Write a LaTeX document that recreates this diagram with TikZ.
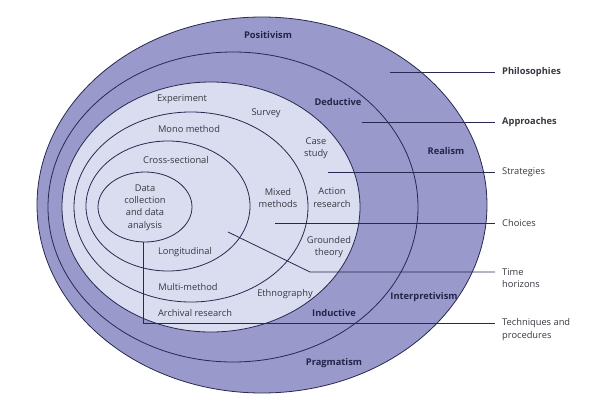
\documentclass[tikz,border=0pt]{standalone}
\usepackage{fontspec}
\setmainfont{Open Sans}
\usepackage{tikz}
\usepackage{xcolor}
\definecolor{onionout}{RGB}{153,153,204}
\definecolor{onionin}{RGB}{218,221,239}
\definecolor{rim}{RGB}{40,40,80}
\definecolor{ink}{RGB}{55,55,65}

\begin{document}
\begin{tikzpicture}[x=1pt,y=-1pt,
  layer/.style={draw=rim, line width=0.8pt},
  lead/.style={draw=rim, line width=0.8pt},
  txt/.style={font=\fontsize{9.3}{12.3}\selectfont, text=ink, align=center, inner sep=0pt},
  bold/.style={txt, font=\fontsize{9.3}{12.3}\selectfont\bfseries, text=rim!90!black},
  side/.style={txt, align=left, anchor=west, inner xsep=7pt}]
\useasboundingbox (0,0) rectangle (598,407);
% the layers of the onion
\filldraw[layer, fill=onionout] (262,205) ellipse (225 and 188);
\filldraw[layer, fill=onionout] (233,207) ellipse (185 and 155);
\filldraw[layer, fill=onionin] (211,207) ellipse (149 and 125);
\filldraw[layer, fill=onionin] (191,207) ellipse (117 and 95);
\filldraw[layer, fill=onionin] (168,206) ellipse (82 and 65);
\filldraw[layer, fill=onionin] (145,207) ellipse (47 and 35);

% labels on the right
\node[side, font=\fontsize{9.3}{12.3}\selectfont\bfseries] (philL) at (495,72) {Philosophies};
\node[side, font=\fontsize{9.3}{12.3}\selectfont\bfseries] (apprL) at (495,122) {Approaches};
\node[side] (stratL) at (495,172) {Strategies};
\node[side] (choiL) at (495,223) {Choices};
\node[side] (timeL) at (495,278) {Time\\horizons};
\node[side] (techL) at (495,329.5) {Techniques and\\procedures};

\coordinate (phil) at (390,72);
\coordinate (appr) at (362,122);
\coordinate (strat) at (328,172);
\coordinate (choi) at (275,223);
\coordinate (time) at (228,232);
\coordinate (timeB) at (310,272);
\coordinate (tech) at (143,242);
\coordinate (techB) at (143,323);

\draw[lead] (phil) -- (philL.west);
\draw[lead] (appr) -- (apprL.west);
\draw[lead] (strat) -- (stratL.west);
\draw[lead] (choi) -- (choiL.west);
\draw[lead] (time) -- (timeB) -- (timeB -| timeL.west);
\draw[lead] (tech) -- (techB) -- (techB -| techL.west);

% philosophies and approaches
\node[bold] (positivism) at (268,35) {Positivism};
\node[bold] (realism) at (446,151) {Realism};
\node[bold] (interp) at (424,297) {Interpretivism};
\node[bold] (pragmatism) at (334,363) {Pragmatism};
\node[bold] (deductive) at (338,102) {Deductive};
\node[bold] (inductive) at (334,313) {Inductive};

% strategies
\node[txt] (experiment) at (182,99) {Experiment};
\node[txt] (survey) at (266,113) {Survey};
\node[txt] (casestudy) at (316,148) {Case\\study};
\node[txt] (action) at (332,197.5) {Action\\research};
\node[txt] (grounded) at (329,247) {Grounded\\theory};
\node[txt] (ethno) at (285,294) {Ethnography};
\node[txt] (archival) at (195,313) {Archival research};

% choices, time horizons, techniques
\node[txt] (mono) at (189,129) {Mono method};
\node[txt] (mixed) at (278,198) {Mixed\\methods};
\node[txt] (multi) at (188,287) {Multi-method};
\node[txt] (cross) at (176,160) {Cross-sectional};
\node[txt] (longi) at (185,252) {Longitudinal};
\node[txt] (data) at (145,207.5) {Data\\collection\\and data\\analysis};
\end{tikzpicture}
\end{document}
